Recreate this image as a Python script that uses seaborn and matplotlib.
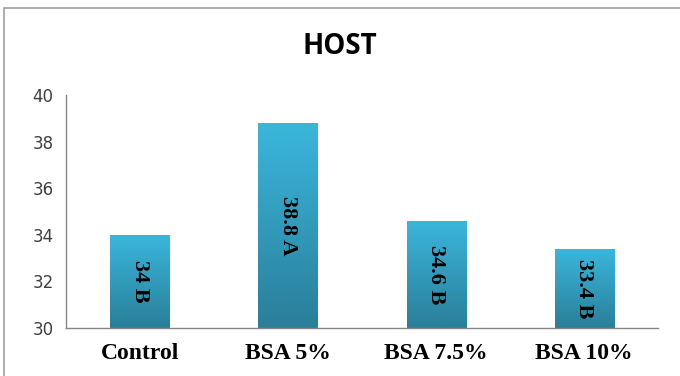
import numpy as np
import pandas as pd
import seaborn as sns
import matplotlib.pyplot as plt
from matplotlib.colors import LinearSegmentedColormap
from matplotlib.patches import Rectangle

# Data
groups = ["Control", "BSA 5%", "BSA 7.5%", "BSA 10%"]
values = [34, 38.8, 34.6, 33.4]
letters = ["B", "A", "B", "B"]

df = pd.DataFrame({"group": groups, "value": values})

sns.set_style("white")
fig = plt.figure(figsize=(6.8, 3.76), dpi=100)
ax = fig.add_axes([0.097, 0.128, 0.871, 0.619])

sns.barplot(data=df, x="group", y="value", color="#31a5c8", width=0.4,
            saturation=1, ax=ax)

# gradient fill on each bar (light at top, darker at bottom)
grad = LinearSegmentedColormap.from_list("bar", ["#2a7f99", "#3ab6dc"])
for p in ax.patches:
    x0, y0 = p.get_x(), p.get_y()
    w, h = p.get_width(), p.get_height()
    p.set_facecolor("none")
    p.set_edgecolor("none")
    img = ax.imshow(np.linspace(0, 1, 100).reshape(-1, 1), cmap=grad,
                    origin="lower", aspect="auto",
                    extent=[x0, x0 + w, 30, y0 + h], zorder=2)
    img.set_clip_path(Rectangle((x0, 30), w, y0 + h - 30, transform=ax.transData))

# value labels, rotated inside the bars
for i, (v, l) in enumerate(zip(values, letters)):
    ax.text(i, (30 + v) / 2, f"{v:g} {l}", rotation=-90, ha="center", va="center",
            family="Liberation Serif", fontweight="bold", fontsize=16,
            color="black", zorder=3)

ax.set_xlim(-0.5, 3.5)
ax.set_ylim(30, 40)
ax.set_yticks([30, 32, 34, 36, 38, 40])
ax.set_xlabel("")
ax.set_ylabel("")

# ticks between categories on the x axis
ax.set_xticks([0, 1, 2, 3])
ax.set_xticks([-0.5, 0.5, 1.5, 2.5, 3.5], minor=True)
ax.tick_params(axis="x", which="major", length=0, pad=11, labelcolor="black")
ax.tick_params(axis="x", which="minor", length=6, color="#868686", direction="out")
ax.tick_params(axis="y", length=5, color="#868686", direction="out", labelsize=12,
               labelcolor="#404040", pad=4)
for lab in ax.get_xticklabels():
    lab.set_family("Liberation Serif")
    lab.set_fontweight("bold")
    lab.set_fontsize(17)

for s in ["top", "right"]:
    ax.spines[s].set_visible(False)
for s in ["left", "bottom"]:
    ax.spines[s].set_color("#868686")
    ax.spines[s].set_linewidth(1)

fig.text(0.5, 0.875, "HOST", ha="center", va="center", fontsize=20,
         fontweight="bold", family="Open Sans", color="black")

# chart frame
fig.patches.append(Rectangle((4 / 680, -0.1), 1.2, 1 - 8 / 376 + 0.1, transform=fig.transFigure,
                             fill=False, edgecolor="#a0a0a0", linewidth=1.2))

fig.savefig("out.png", dpi=100)
